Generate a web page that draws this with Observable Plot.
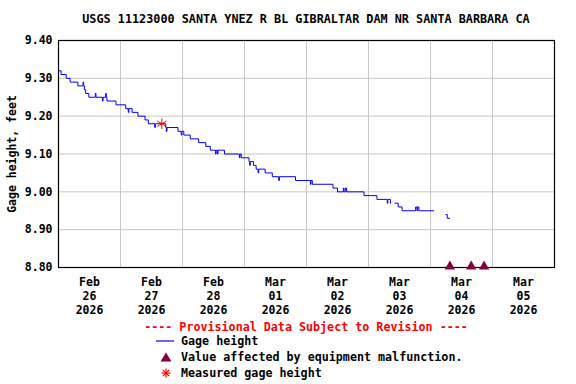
<!DOCTYPE html>
<html>
<head>
<meta charset="utf-8">
<script src="https://cdn.jsdelivr.net/npm/d3@7"></script>
<script src="https://cdn.jsdelivr.net/npm/@observablehq/plot@0.6"></script>
<style>
  html, body { margin: 0; padding: 0; background: #fff; }
  #wrap { position: relative; width: 576px; height: 384px; overflow: hidden; font-family: "DejaVu Sans Mono", monospace; font-weight: bold; color: #000; }
  #title { position: absolute; left: 58px; width: 496px; top: 12px; text-align: center; font-size: 11.8px; white-space: nowrap; }
  #chart { position: absolute; left: 0; top: 30px; }
  #legend { position: absolute; left: 0; top: 320px; width: 576px; font-size: 11.7px; }
  .prov { position: absolute; left: 58px; width: 496px; top: 0px; text-align: center; color: #ff0000; white-space: nowrap; }
  .row { position: absolute; left: 156px; height: 16px; display: flex; align-items: center; white-space: nowrap; }
  .row svg { width: 20px; height: 16px; margin-right: 5px; flex: none; }
</style>
</head>
<body>
<div id="wrap">
  <div id="title"></div>
  <div id="chart"></div>
  <div id="legend"></div>
</div>
<script>
// ---- data ----
const titleText = "USGS 11123000 SANTA YNEZ R BL GIBRALTAR DAM NR SANTA BARBARA CA";
const yLabel = "Gage height, feet";
const provisionalText = "---- Provisional Data Subject to Revision ----";
const legendLabels = ["Gage height", "Value affected by equipment malfunction.", "Measured gage height"];

// change points of the step series (null = gap in record)
const times = [
  "2026-02-26T00:00","2026-02-26T01:00","2026-02-26T03:00","2026-02-26T04:30","2026-02-26T07:30",
  "2026-02-26T09:30","2026-02-26T09:45","2026-02-26T10:00","2026-02-26T10:30","2026-02-26T11:45",
  "2026-02-26T14:15","2026-02-26T14:30","2026-02-26T17:00","2026-02-26T17:15","2026-02-26T18:15",
  "2026-02-26T18:30","2026-02-26T18:45","2026-02-26T22:15",
  "2026-02-27T02:00","2026-02-27T03:00","2026-02-27T03:15","2026-02-27T04:30","2026-02-27T06:45",
  "2026-02-27T09:30","2026-02-27T10:45","2026-02-27T13:15","2026-02-27T13:30","2026-02-27T17:30",
  "2026-02-27T17:45","2026-02-27T18:00","2026-02-27T22:15","2026-02-27T23:30","2026-02-27T23:45",
  "2026-02-28T00:30","2026-02-28T03:00","2026-02-28T06:15","2026-02-28T09:00","2026-02-28T10:45",
  "2026-02-28T12:45","2026-02-28T13:00","2026-02-28T13:30","2026-02-28T13:45","2026-02-28T16:15",
  "2026-02-28T22:00","2026-02-28T22:15","2026-02-28T22:45",
  "2026-03-01T01:45","2026-03-01T02:00","2026-03-01T02:15","2026-03-01T03:30","2026-03-01T04:30",
  "2026-03-01T05:15","2026-03-01T05:30","2026-03-01T08:00","2026-03-01T10:45","2026-03-01T13:15",
  "2026-03-01T13:30","2026-03-01T19:45",
  "2026-03-02T01:30","2026-03-02T01:45","2026-03-02T02:15","2026-03-02T10:15","2026-03-02T12:00",
  "2026-03-02T14:15","2026-03-02T14:30","2026-03-02T15:00","2026-03-02T15:30","2026-03-02T22:15",
  "2026-03-03T03:15","2026-03-03T07:15","2026-03-03T07:30","2026-03-03T08:30","2026-03-03T08:45",
  "2026-03-03T09:00","2026-03-03T10:15","2026-03-03T11:30","2026-03-03T13:00","2026-03-03T18:15",
  "2026-03-03T18:45","2026-03-03T19:00","2026-03-03T19:30",
  "2026-03-04T01:15","2026-03-04T01:30","2026-03-04T06:00","2026-03-04T06:30","2026-03-04T07:30"
];
const heights = [
  9.32, 9.31, 9.30, 9.29, 9.28,
  9.29, 9.28, 9.27, 9.26, 9.25,
  9.26, 9.25, 9.24, 9.25, 9.26,
  9.25, 9.24, 9.23,
  9.22, 9.21, 9.22, 9.21, 9.20,
  9.19, 9.18, 9.17, 9.18, 9.17,
  9.16, 9.17, 9.16, 9.15, 9.16,
  9.15, 9.14, 9.13, 9.12, 9.11,
  9.10, 9.11, 9.10, 9.11, 9.10,
  9.09, 9.10, 9.09,
  9.08, 9.07, 9.08, 9.07, 9.06,
  9.05, 9.06, 9.05, 9.04, 9.03,
  9.04, 9.03,
  9.02, 9.03, 9.02, 9.01, 9.00,
  9.01, 9.00, 9.01, 9.00, 8.99,
  8.98, 8.97, 8.98, 8.97, 8.97,
  null, 8.97, 8.96, 8.95, 8.96,
  8.95, 8.96, 8.95,
  8.95, null, 8.94, 8.93, 8.93
];

const malfunctionTimes = ["2026-03-04T07:30", "2026-03-04T15:45", "2026-03-04T20:45"];
const malfunctionHeights = [8.80, 8.80, 8.80];

const measuredTimes = ["2026-02-27T16:00"];
const measuredHeights = [9.18];

const xStart = "2026-02-26T00:00";
const xEnd = "2026-03-06T00:00";
const yTicks = [8.80, 8.90, 9.00, 9.10, 9.20, 9.30, 9.40];

// ---- build ----
const parse = s => new Date(s + ":00Z");
const series = times.map((t, i) => ({t: parse(t), v: heights[i]}));
const malf = malfunctionTimes.map((t, i) => ({t: parse(t), v: malfunctionHeights[i]}));
const meas = measuredTimes.map((t, i) => ({t: parse(t), v: measuredHeights[i]}));
const x0 = parse(xStart), x1 = parse(xEnd);
const dayTicks = d3.utcDay.range(x0, d3.utcDay.offset(x1, 1));
const noonTicks = d3.utcDay.range(x0, x1).map(d => d3.utcHour.offset(d, 12));
const fmtLabel = d => `${d3.utcFormat("%b")(d)}\n${d3.utcFormat("%d")(d)}\n${d3.utcFormat("%Y")(d)}`;

document.getElementById("title").textContent = titleText;

const chart = Plot.plot({
  width: 576,
  height: 290,
  marginTop: 10,
  marginBottom: 53,
  marginLeft: 58,
  marginRight: 22,
  style: {fontFamily: "DejaVu Sans Mono", fontSize: "11.5px", fontWeight: "bold", color: "#000", background: "#fff"},
  x: {type: "utc", domain: [x0, x1]},
  y: {domain: [8.8, 9.4]},
  marks: [
    Plot.gridX(dayTicks, {stroke: "#c8c8c8", strokeOpacity: 1}),
    Plot.gridY(yTicks, {stroke: "#c8c8c8", strokeOpacity: 1}),
    Plot.axisX(noonTicks, {tickSize: 0, tickPadding: 9, tickFormat: fmtLabel, lineHeight: 1.2, label: null}),
    Plot.axisY(yTicks, {tickSize: 0, tickPadding: 6, tickFormat: d3.format(".2f"), label: yLabel, labelAnchor: "center", labelArrow: "none", labelOffset: 51}),
    Plot.line(series, {x: "t", y: "v", curve: "step-after", stroke: "#0000ff", strokeWidth: 1}),
    Plot.frame({stroke: "#000", strokeWidth: 1.2}),
    Plot.dot(malf, {x: "t", y: "v", symbol: "triangle", r: 3.8, fill: "#800040", stroke: "none", dy: -1}),
    Plot.dot(meas, {x: "t", y: "v", symbol: "asterisk", r: 5, stroke: "#ff0000", strokeWidth: 1})
  ]
});
document.getElementById("chart").appendChild(chart);

// ---- legend ----
const legend = document.getElementById("legend");
const prov = document.createElement("div");
prov.className = "prov";
prov.textContent = provisionalText;
legend.appendChild(prov);
const swatches = [
  '<svg viewBox="0 0 20 16"><line x1="0" y1="8" x2="18" y2="8" stroke="#0000ff" stroke-width="1.2"/></svg>',
  '<svg viewBox="0 0 20 16"><path d="M10,3.5 L15.5,12.5 L4.5,12.5 Z" fill="#800040"/></svg>',
  '<svg viewBox="0 0 20 16"><g stroke="#ff0000" stroke-width="1.2"><line x1="10" y1="3.5" x2="10" y2="12.5"/><line x1="5.5" y1="8" x2="14.5" y2="8"/><line x1="6.8" y1="4.8" x2="13.2" y2="11.2"/><line x1="6.8" y1="11.2" x2="13.2" y2="4.8"/></g></svg>'
];
const rowTops = [13, 29, 45];
legendLabels.forEach((lab, i) => {
  const r = document.createElement("div");
  r.className = "row";
  r.style.top = rowTops[i] + "px";
  r.innerHTML = swatches[i];
  const s = document.createElement("span");
  s.textContent = lab;
  r.appendChild(s);
  legend.appendChild(r);
});
</script>
</body>
</html>
